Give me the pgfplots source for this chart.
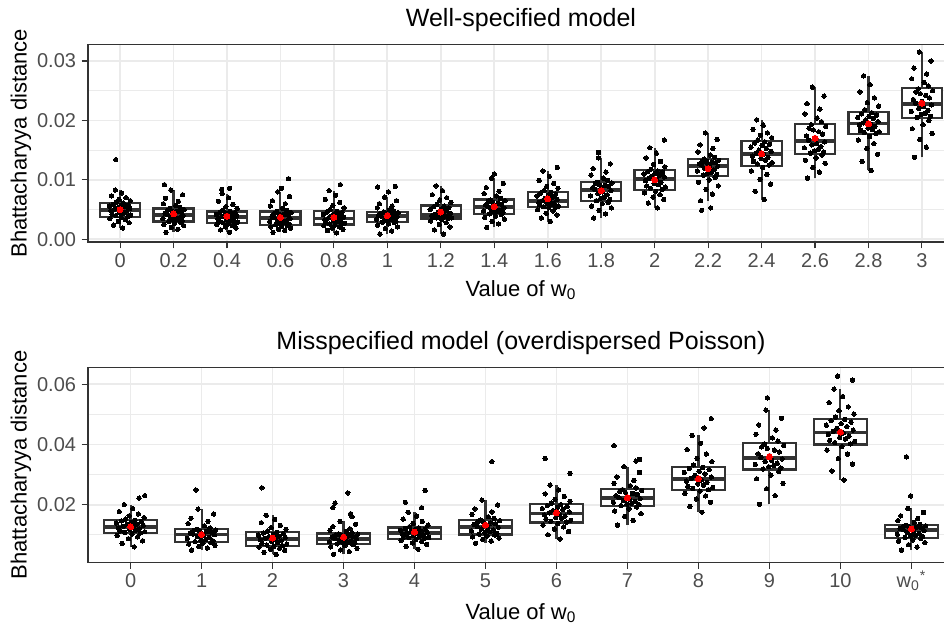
\documentclass[border=0pt]{standalone}
\usepackage{fontspec}
\setmainfont{Liberation Sans}
\usepackage{pgfplots}
\pgfplotsset{compat=1.18}
\usepackage{pgfplotstable}
\definecolor{gridc}{HTML}{EBEBEB}
\definecolor{g20}{HTML}{333333}
\definecolor{g30}{HTML}{4D4D4D}

\pgfplotstableread{
dxa dxb t0 t1 t2 t3 t4 t5 t6 t7 t8 t9 t10 t11 t12 t13 t14 t15
0.05 -0.14 0.0019 0.0012 0.0012 0.0012 0.0011 0.0009 0.0009 0.0020 0.0030 0.0036 0.0053 0.0065 0.0067 0.0103 0.0116 0.0138
-0.12 0.08 0.0024 0.0017 0.0016 0.0015 0.0015 0.0014 0.0016 0.0026 0.0036 0.0043 0.0061 0.0076 0.0081 0.0113 0.0131 0.0155
0.17 -0.04 0.0028 0.0020 0.0019 0.0017 0.0017 0.0018 0.0021 0.0030 0.0041 0.0049 0.0067 0.0084 0.0093 0.0121 0.0143 0.0168
-0.03 0.19 0.0030 0.0023 0.0021 0.0019 0.0019 0.0021 0.0025 0.0034 0.0044 0.0053 0.0071 0.0090 0.0101 0.0128 0.0153 0.0178
0.10 -0.18 0.0033 0.0025 0.0023 0.0021 0.0021 0.0024 0.0028 0.0037 0.0048 0.0056 0.0075 0.0096 0.0109 0.0133 0.0161 0.0186
-0.19 0.02 0.0035 0.0027 0.0025 0.0022 0.0023 0.0026 0.0031 0.0039 0.0050 0.0060 0.0078 0.0100 0.0115 0.0137 0.0167 0.0193
0.02 0.13 0.0037 0.0029 0.0026 0.0023 0.0024 0.0028 0.0033 0.0042 0.0053 0.0062 0.0081 0.0104 0.0121 0.0142 0.0173 0.0200
0.14 -0.09 0.0038 0.0030 0.0027 0.0025 0.0025 0.0029 0.0035 0.0043 0.0054 0.0065 0.0084 0.0108 0.0125 0.0145 0.0178 0.0205
-0.08 0.16 0.0040 0.0032 0.0028 0.0026 0.0026 0.0030 0.0036 0.0045 0.0055 0.0067 0.0086 0.0109 0.0127 0.0147 0.0180 0.0207
0.20 -0.01 0.0041 0.0033 0.0029 0.0027 0.0027 0.0031 0.0036 0.0046 0.0056 0.0069 0.0088 0.0111 0.0129 0.0149 0.0181 0.0210
-0.15 0.06 0.0042 0.0034 0.0031 0.0028 0.0029 0.0033 0.0037 0.0047 0.0058 0.0071 0.0090 0.0113 0.0131 0.0151 0.0183 0.0212
0.07 -0.20 0.0044 0.0035 0.0032 0.0030 0.0030 0.0034 0.0038 0.0048 0.0059 0.0073 0.0092 0.0115 0.0133 0.0154 0.0185 0.0215
-0.01 0.11 0.0045 0.0036 0.0033 0.0031 0.0031 0.0035 0.0038 0.0049 0.0060 0.0075 0.0094 0.0117 0.0136 0.0156 0.0187 0.0217
0.12 -0.06 0.0046 0.0038 0.0034 0.0032 0.0032 0.0036 0.0039 0.0051 0.0061 0.0077 0.0096 0.0119 0.0138 0.0159 0.0190 0.0220
-0.17 0.03 0.0048 0.0039 0.0035 0.0034 0.0033 0.0037 0.0040 0.0052 0.0062 0.0080 0.0099 0.0121 0.0140 0.0161 0.0192 0.0223
0.04 0.18 0.0049 0.0040 0.0036 0.0035 0.0034 0.0038 0.0041 0.0053 0.0063 0.0082 0.0101 0.0123 0.0143 0.0164 0.0194 0.0226
-0.10 -0.12 0.0051 0.0042 0.0038 0.0037 0.0036 0.0039 0.0042 0.0055 0.0065 0.0084 0.0103 0.0125 0.0145 0.0167 0.0196 0.0229
0.18 0.00 0.0052 0.0043 0.0039 0.0038 0.0037 0.0040 0.0044 0.0056 0.0067 0.0086 0.0105 0.0126 0.0148 0.0170 0.0198 0.0232
-0.05 -0.16 0.0053 0.0044 0.0040 0.0039 0.0039 0.0041 0.0046 0.0058 0.0069 0.0087 0.0106 0.0127 0.0150 0.0174 0.0201 0.0235
0.09 0.14 0.0055 0.0046 0.0041 0.0041 0.0040 0.0042 0.0048 0.0059 0.0071 0.0089 0.0108 0.0129 0.0153 0.0177 0.0203 0.0238
-0.20 0.07 0.0056 0.0047 0.0042 0.0042 0.0042 0.0043 0.0050 0.0061 0.0073 0.0091 0.0110 0.0130 0.0155 0.0181 0.0205 0.0242
0.01 -0.03 0.0057 0.0048 0.0044 0.0043 0.0043 0.0044 0.0051 0.0062 0.0074 0.0092 0.0111 0.0131 0.0158 0.0184 0.0207 0.0245
0.15 -0.11 0.0058 0.0049 0.0045 0.0044 0.0045 0.0044 0.0053 0.0064 0.0076 0.0094 0.0113 0.0132 0.0160 0.0187 0.0209 0.0248
-0.13 0.20 0.0059 0.0050 0.0046 0.0045 0.0046 0.0045 0.0055 0.0065 0.0078 0.0095 0.0114 0.0133 0.0162 0.0190 0.0211 0.0250
0.06 -0.07 0.0061 0.0052 0.0047 0.0047 0.0047 0.0046 0.0056 0.0066 0.0079 0.0096 0.0115 0.0135 0.0164 0.0193 0.0213 0.0253
-0.07 0.12 0.0062 0.0054 0.0049 0.0049 0.0050 0.0048 0.0059 0.0069 0.0082 0.0099 0.0118 0.0138 0.0167 0.0198 0.0218 0.0258
0.19 0.04 0.0065 0.0057 0.0052 0.0052 0.0053 0.0050 0.0062 0.0073 0.0086 0.0103 0.0122 0.0142 0.0171 0.0204 0.0224 0.0264
-0.02 -0.19 0.0067 0.0060 0.0055 0.0056 0.0057 0.0053 0.0066 0.0077 0.0089 0.0108 0.0126 0.0147 0.0175 0.0211 0.0230 0.0270
0.11 0.09 0.0070 0.0064 0.0059 0.0060 0.0062 0.0056 0.0070 0.0081 0.0094 0.0113 0.0131 0.0153 0.0179 0.0219 0.0238 0.0278
-0.16 -0.15 0.0073 0.0069 0.0064 0.0065 0.0067 0.0060 0.0075 0.0087 0.0099 0.0119 0.0137 0.0159 0.0185 0.0228 0.0248 0.0288
0.03 0.17 0.0078 0.0075 0.0070 0.0072 0.0074 0.0065 0.0082 0.0094 0.0106 0.0127 0.0145 0.0168 0.0192 0.0241 0.0260 0.0300
-0.09 -0.05 0.0083 0.0083 0.0077 0.0080 0.0082 0.0071 0.0090 0.0103 0.0115 0.0137 0.0154 0.0179 0.0201 0.0256 0.0275 0.0315
}\topdata

\pgfplotstableread{
dxa dxb b0 b1 b2 b3 b4 b5 b6 b7 b8 b9 b10 b11
0.05 -0.14 0.0060 0.0049 0.0035 0.0035 0.0052 0.0072 0.0086 0.0132 0.0175 0.0201 0.0282 0.0049
-0.12 0.08 0.0071 0.0056 0.0042 0.0044 0.0061 0.0079 0.0100 0.0148 0.0194 0.0230 0.0312 0.0059
0.17 -0.04 0.0080 0.0061 0.0048 0.0050 0.0068 0.0085 0.0111 0.0161 0.0208 0.0253 0.0335 0.0067
-0.03 0.19 0.0087 0.0065 0.0052 0.0055 0.0073 0.0089 0.0119 0.0170 0.0219 0.0271 0.0353 0.0074
0.10 -0.18 0.0093 0.0069 0.0055 0.0060 0.0078 0.0093 0.0126 0.0179 0.0229 0.0286 0.0368 0.0079
-0.19 0.02 0.0098 0.0072 0.0059 0.0064 0.0081 0.0096 0.0132 0.0186 0.0237 0.0298 0.0381 0.0083
0.02 0.13 0.0102 0.0074 0.0061 0.0067 0.0085 0.0099 0.0138 0.0192 0.0245 0.0310 0.0393 0.0088
0.14 -0.09 0.0106 0.0077 0.0064 0.0070 0.0088 0.0102 0.0142 0.0197 0.0250 0.0318 0.0402 0.0091
-0.08 0.16 0.0108 0.0080 0.0066 0.0072 0.0090 0.0105 0.0145 0.0200 0.0254 0.0322 0.0406 0.0094
0.20 -0.01 0.0110 0.0082 0.0069 0.0073 0.0091 0.0107 0.0148 0.0202 0.0257 0.0326 0.0410 0.0096
-0.15 0.06 0.0113 0.0085 0.0071 0.0075 0.0093 0.0110 0.0152 0.0205 0.0261 0.0330 0.0414 0.0099
0.07 -0.20 0.0115 0.0088 0.0074 0.0077 0.0095 0.0113 0.0155 0.0208 0.0265 0.0334 0.0418 0.0102
-0.01 0.11 0.0118 0.0091 0.0077 0.0079 0.0097 0.0116 0.0158 0.0211 0.0269 0.0338 0.0423 0.0105
0.12 -0.06 0.0120 0.0094 0.0080 0.0082 0.0100 0.0119 0.0162 0.0214 0.0274 0.0343 0.0428 0.0108
-0.17 0.03 0.0123 0.0097 0.0083 0.0084 0.0102 0.0122 0.0166 0.0217 0.0278 0.0347 0.0433 0.0111
0.04 0.18 0.0126 0.0100 0.0086 0.0086 0.0104 0.0125 0.0169 0.0220 0.0282 0.0352 0.0438 0.0114
-0.10 -0.12 0.0128 0.0102 0.0088 0.0088 0.0106 0.0128 0.0173 0.0223 0.0287 0.0357 0.0443 0.0117
0.18 0.00 0.0131 0.0104 0.0091 0.0090 0.0108 0.0131 0.0176 0.0226 0.0292 0.0363 0.0448 0.0119
-0.05 -0.16 0.0134 0.0106 0.0094 0.0092 0.0111 0.0134 0.0180 0.0230 0.0297 0.0369 0.0454 0.0121
0.09 0.14 0.0136 0.0109 0.0096 0.0094 0.0113 0.0137 0.0184 0.0234 0.0302 0.0375 0.0459 0.0123
-0.20 0.07 0.0139 0.0111 0.0099 0.0096 0.0115 0.0139 0.0187 0.0237 0.0307 0.0381 0.0464 0.0125
0.01 -0.03 0.0141 0.0113 0.0101 0.0098 0.0117 0.0142 0.0191 0.0241 0.0311 0.0387 0.0469 0.0126
0.15 -0.11 0.0144 0.0115 0.0104 0.0100 0.0119 0.0144 0.0194 0.0244 0.0316 0.0392 0.0474 0.0128
-0.13 0.20 0.0146 0.0116 0.0106 0.0102 0.0121 0.0147 0.0197 0.0247 0.0320 0.0397 0.0479 0.0130
0.06 -0.07 0.0148 0.0118 0.0108 0.0103 0.0123 0.0149 0.0200 0.0250 0.0324 0.0402 0.0483 0.0131
-0.07 0.12 0.0152 0.0123 0.0112 0.0106 0.0127 0.0154 0.0205 0.0256 0.0332 0.0411 0.0491 0.0135
0.19 0.04 0.0157 0.0130 0.0118 0.0111 0.0132 0.0160 0.0211 0.0263 0.0343 0.0422 0.0501 0.0141
-0.02 -0.19 0.0163 0.0137 0.0124 0.0115 0.0138 0.0168 0.0218 0.0271 0.0354 0.0434 0.0512 0.0147
0.11 0.09 0.0169 0.0145 0.0131 0.0120 0.0144 0.0176 0.0227 0.0281 0.0368 0.0448 0.0525 0.0154
-0.16 -0.15 0.0177 0.0155 0.0140 0.0127 0.0152 0.0186 0.0236 0.0292 0.0383 0.0465 0.0539 0.0163
0.03 0.17 0.0187 0.0169 0.0151 0.0135 0.0162 0.0199 0.0249 0.0307 0.0404 0.0487 0.0559 0.0174
-0.09 -0.05 0.0200 0.0185 0.0165 0.0145 0.0175 0.0215 0.0265 0.0326 0.0430 0.0514 0.0584 0.0188
}\botdata

\pgfplotsset{
  panel/.style={
    width=433pt, scale only axis, xmin=-0.6,
    axis line style={g20, line width=0.6pt},
    tick align=outside, tick pos=left,
    major tick length=3.2pt, minor tick length=0pt,
    tick style={g20, line width=0.55pt},
    xmajorgrids, ymajorgrids, yminorgrids,
    major grid style={gridc, line width=0.9pt},
    minor grid style={gridc, line width=0.45pt},
    xticklabel style={font=\fontsize{10}{12}\selectfont, text=g30, anchor=base, yshift=-9.4pt},
    yticklabel style={font=\fontsize{10}{12}\selectfont, text=g30, anchor=east, inner sep=0pt, xshift=-2.6pt},
    scaled y ticks=false,
  },
  wsk/.style={draw=g20, line width=1.05pt, mark=none},
  bxs/.style={draw=g20, fill=white, line width=1.1pt, mark=none},
  med/.style={draw=g20, line width=1.9pt, mark=none},
  pts/.style={only marks, mark=*, black, mark size=1.1pt, mark options={line width=0pt}},
  mns/.style={only marks, mark=*, red, mark size=1.5pt, mark options={line width=0pt}},
}
% #1 position, #2 lower whisker, #3 lower quartile, #4 median, #5 upper quartile, #6 upper whisker, #7 left edge, #8 right edge
\newcommand{\bx}[8]{%
  \addplot[wsk] coordinates {(#1,#2) (#1,#6)};
  \addplot[bxs] coordinates {(#7,#3) (#8,#3) (#8,#5) (#7,#5) (#7,#3) (#8,#3)};
  \addplot[med] coordinates {(#7,#4) (#8,#4)};
}

\begin{document}
\begin{tikzpicture}
\begin{axis}[panel, at={(44pt,193pt)}, anchor=south west, height=98.85pt,
  xmax=15.6, ymin=-0.00044, ymax=0.0328,
  xtick={0,...,15}, xticklabels={0,0.2,0.4,0.6,0.8,1,1.2,1.4,1.6,1.8,2,2.2,2.4,2.6,2.8,3},
  ytick={0,0.01,0.02,0.03}, yticklabels={0.00,0.01,0.02,0.03},
  minor ytick={0.005,0.015,0.025}]
\bx{0}{0.0019}{0.0038}{0.0050}{0.0061}{0.0083}{-0.375}{0.375}
\bx{1}{0.0012}{0.0030}{0.0041}{0.0052}{0.0083}{0.625}{1.375}
\bx{2}{0.0012}{0.0027}{0.0037}{0.0047}{0.0077}{1.625}{2.375}
\bx{3}{0.0012}{0.0024}{0.0036}{0.0047}{0.0080}{2.625}{3.375}
\bx{4}{0.0011}{0.0025}{0.0035}{0.0048}{0.0082}{3.625}{4.375}
\bx{5}{0.0009}{0.0029}{0.0039}{0.0046}{0.0071}{4.625}{5.375}
\bx{6}{0.0009}{0.0035}{0.0041}{0.0057}{0.0090}{5.625}{6.375}
\bx{7}{0.0020}{0.0043}{0.0054}{0.0067}{0.0103}{6.625}{7.375}
\bx{8}{0.0030}{0.0054}{0.0064}{0.0080}{0.0115}{7.625}{8.375}
\bx{9}{0.0036}{0.0064}{0.0083}{0.0097}{0.0137}{8.625}{9.375}
\bx{10}{0.0053}{0.0083}{0.0102}{0.0116}{0.0154}{9.625}{10.375}
\bx{11}{0.0065}{0.0107}{0.0124}{0.0135}{0.0179}{10.625}{11.375}
\bx{12}{0.0067}{0.0124}{0.0144}{0.0165}{0.0201}{11.625}{12.375}
\bx{13}{0.0103}{0.0144}{0.0165}{0.0194}{0.0256}{12.625}{13.375}
\bx{14}{0.0116}{0.0177}{0.0195}{0.0214}{0.0275}{13.625}{14.375}
\bx{15}{0.0138}{0.0204}{0.0227}{0.0254}{0.0315}{14.625}{15.375}
\addplot[pts] table[x expr=0+\thisrow{dxa}, y=t0] {\topdata};
\addplot[pts] table[x expr=1+\thisrow{dxb}, y=t1] {\topdata};
\addplot[pts] table[x expr=2+\thisrow{dxa}, y=t2] {\topdata};
\addplot[pts] table[x expr=3+\thisrow{dxb}, y=t3] {\topdata};
\addplot[pts] table[x expr=4+\thisrow{dxa}, y=t4] {\topdata};
\addplot[pts] table[x expr=5+\thisrow{dxb}, y=t5] {\topdata};
\addplot[pts] table[x expr=6+\thisrow{dxa}, y=t6] {\topdata};
\addplot[pts] table[x expr=7+\thisrow{dxb}, y=t7] {\topdata};
\addplot[pts] table[x expr=8+\thisrow{dxa}, y=t8] {\topdata};
\addplot[pts] table[x expr=9+\thisrow{dxb}, y=t9] {\topdata};
\addplot[pts] table[x expr=10+\thisrow{dxa}, y=t10] {\topdata};
\addplot[pts] table[x expr=11+\thisrow{dxb}, y=t11] {\topdata};
\addplot[pts] table[x expr=12+\thisrow{dxa}, y=t12] {\topdata};
\addplot[pts] table[x expr=13+\thisrow{dxb}, y=t13] {\topdata};
\addplot[pts] table[x expr=14+\thisrow{dxa}, y=t14] {\topdata};
\addplot[pts] table[x expr=15+\thisrow{dxb}, y=t15] {\topdata};
\addplot[pts] coordinates {(-0.08,0.0134) (0.83,0.0092) (2.05,0.0086) (1.90,0.0084) (3.15,0.0102) (3.02,0.0086) (4.12,0.0092) (5.15,0.0089) (4.82,0.0088) (5.02,0.0080) (7.00,0.0110) (8.18,0.0121) (8.95,0.0146) (10.18,0.0167) (10.88,0.0049) (11.05,0.0053)};
\addplot[mns] coordinates {(0,0.0050) (1,0.0043) (2,0.0039) (3,0.0037) (4,0.0037) (5,0.0040) (6,0.0046) (7,0.0055) (8,0.0068) (9,0.0082) (10,0.0100) (11,0.0119) (12,0.0144) (13,0.0170) (14,0.0194) (15,0.0229)};
\end{axis}

\begin{axis}[panel, at={(44pt,32.85pt)}, anchor=south west, height=97.3pt,
  xmax=11.6, ymin=0.00086, ymax=0.0655,
  xtick={0,...,11}, xticklabels={0,1,2,3,4,5,6,7,8,9,10,{w\textsubscript{0}\textsuperscript{*}}},
  ytick={0.02,0.04,0.06}, yticklabels={0.02,0.04,0.06},
  minor ytick={0.01,0.03,0.05}]
\bx{0}{0.0060}{0.0105}{0.0127}{0.0149}{0.0200}{-0.375}{0.375}
\bx{1}{0.0049}{0.0076}{0.0101}{0.0119}{0.0185}{0.625}{1.375}
\bx{2}{0.0035}{0.0063}{0.0087}{0.0109}{0.0165}{1.625}{2.375}
\bx{3}{0.0035}{0.0069}{0.0087}{0.0104}{0.0145}{2.625}{3.375}
\bx{4}{0.0052}{0.0087}{0.0105}{0.0124}{0.0175}{3.625}{4.375}
\bx{5}{0.0072}{0.0101}{0.0127}{0.0150}{0.0215}{4.625}{5.375}
\bx{6}{0.0086}{0.0141}{0.0171}{0.0201}{0.0265}{5.625}{6.375}
\bx{7}{0.0132}{0.0196}{0.0221}{0.0251}{0.0326}{6.625}{7.375}
\bx{8}{0.0175}{0.0249}{0.0284}{0.0326}{0.0430}{7.625}{8.375}
\bx{9}{0.0201}{0.0317}{0.0354}{0.0404}{0.0514}{8.625}{9.375}
\bx{10}{0.0282}{0.0400}{0.0440}{0.0485}{0.0584}{9.625}{10.375}
\bx{11}{0.0049}{0.0090}{0.0116}{0.0132}{0.0188}{10.625}{11.375}
\addplot[pts] table[x expr=0+\thisrow{dxa}, y=b0] {\botdata};
\addplot[pts] table[x expr=1+\thisrow{dxb}, y=b1] {\botdata};
\addplot[pts] table[x expr=2+\thisrow{dxa}, y=b2] {\botdata};
\addplot[pts] table[x expr=3+\thisrow{dxb}, y=b3] {\botdata};
\addplot[pts] table[x expr=4+\thisrow{dxa}, y=b4] {\botdata};
\addplot[pts] table[x expr=5+\thisrow{dxb}, y=b5] {\botdata};
\addplot[pts] table[x expr=6+\thisrow{dxa}, y=b6] {\botdata};
\addplot[pts] table[x expr=7+\thisrow{dxb}, y=b7] {\botdata};
\addplot[pts] table[x expr=8+\thisrow{dxa}, y=b8] {\botdata};
\addplot[pts] table[x expr=9+\thisrow{dxb}, y=b9] {\botdata};
\addplot[pts] table[x expr=10+\thisrow{dxa}, y=b10] {\botdata};
\addplot[pts] table[x expr=11+\thisrow{dxb}, y=b11] {\botdata};
\addplot[pts] coordinates {(0.20,0.0230) (0.12,0.0222) (0.92,0.0249) (1.85,0.0256) (3.06,0.0239) (2.88,0.0205) (3.10,0.0170) (2.85,0.0190) (3.12,0.0160) (4.15,0.0247) (3.87,0.0208) (4.10,0.0190) (5.09,0.0343) (5.84,0.0354) (6.19,0.0304) (6.81,0.0396) (7.17,0.0350) (7.12,0.0345) (8.18,0.0486) (8.08,0.0455) (8.97,0.0555) (9.96,0.0627) (10.17,0.0614) (10.93,0.0359) (10.99,0.0229)};
\addplot[mns] coordinates {(0,0.0127) (1,0.0101) (2,0.0089) (3,0.0092) (4,0.0109) (5,0.0132) (6,0.0173) (7,0.0223) (8,0.0286) (9,0.0359) (10,0.0441) (11,0.0119)};
\end{axis}

\node[anchor=base, font=\fontsize{12.5}{15}\selectfont] at (260.5pt,300.75pt) {Well-specified model};
\node[anchor=base, font=\fontsize{11}{13}\selectfont] at (260.5pt,165.65pt) {Value of w\textsubscript{0}};
\node[anchor=base, rotate=90, font=\fontsize{11}{13}\selectfont] at (13.35pt,242.35pt) {Bhattacharyya distance};
\node[anchor=base, font=\fontsize{12.5}{15}\selectfont] at (260.5pt,139.35pt) {Misspecified model (overdispersed Poisson)};
\node[anchor=base, font=\fontsize{11}{13}\selectfont] at (260.5pt,4.2pt) {Value of w\textsubscript{0}};
\node[anchor=base, rotate=90, font=\fontsize{11}{13}\selectfont] at (13.35pt,81.5pt) {Bhattacharyya distance};
\pgfresetboundingbox
\useasboundingbox (0pt,0pt) rectangle (472pt,314pt);
\end{tikzpicture}
\end{document}
